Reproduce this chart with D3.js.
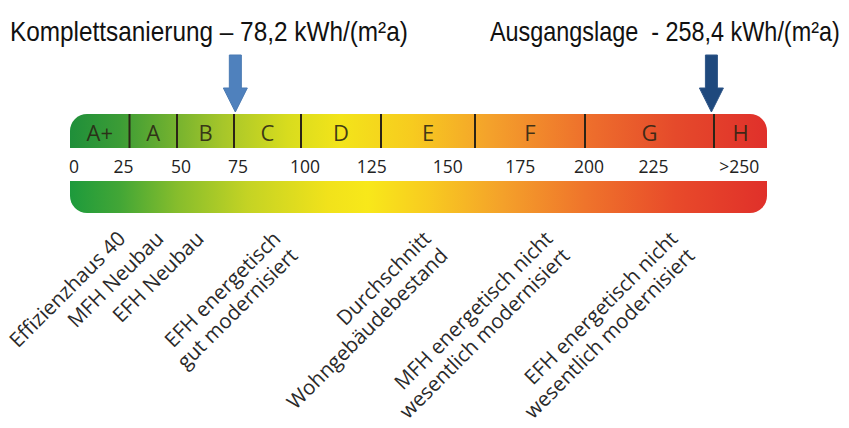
<!DOCTYPE html>
<html><head><meta charset="utf-8">
<script src="https://cdn.jsdelivr.net/npm/d3@7"></script>
<style>
html,body{margin:0;padding:0;background:#fff;}
svg{display:block;}
</style></head>
<body>
<svg id="chart" width="849" height="428"></svg>
<script>
// ---- data ----
const classNames = ["A+", "A", "B", "C", "D", "E", "F", "G", "H"];
const classBounds = [0, 30, 50, 75, 100, 130, 160, 200, 250, 270]; // kWh/(m²a), last = end of scale
const tickValues = [0, 25, 50, 75, 100, 125, 150, 175, 200, 225, 258];
const tickLabels = ["0", "25", "50", "75", "100", "125", "150", "175", "200", "225", ">250"];
const markerTitles = ["Komplettsanierung – 78,2 kWh/(m²a)", "Ausgangslage\u00a0 - 258,4 kWh/(m²a)"];
const markerValues = [75.5, 249]; // arrow positions as drawn on the scale
const refLines1 = ["Effizienzhaus 40", "MFH Neubau", "EFH Neubau", "EFH energetisch", "Durchschnitt", "MFH energetisch nicht", "EFH energetisch nicht"];
const refLines2 = ["", "", "", "gut modernisiert", "Wohngebäudebestand", "wesentlich modernisiert", "wesentlich modernisiert"];
const refValues = [28.6, 44.9, 62.3, 92.9, 146.3, 188.7, 236.4];

// ---- layout ----
const svg = d3.select("#chart");
const x = d3.scaleLinear().domain(classBounds).range([70, 129.5, 177, 234, 301, 381, 475, 585, 714, 767]);

const topY = 114, topH = 34, botY = 181, botH = 32, r = 17;
const x0 = x(classBounds[0]), x1 = x(classBounds[classBounds.length - 1]);

const defs = svg.append("defs");
function grad(id, stops) {
  const g = defs.append("linearGradient").attr("id", id)
    .attr("gradientUnits", "userSpaceOnUse")
    .attr("x1", x0).attr("x2", x1).attr("y1", 0).attr("y2", 0);
  stops.forEach(s => g.append("stop").attr("offset", (x(s[0]) - x0) / (x1 - x0)).attr("stop-color", s[1]));
}
grad("gTop", [[0, "#1f8f3a"], [25, "#3b9c36"], [45, "#6aae30"], [70, "#a6c62a"], [95, "#d8dc1e"], [115, "#f3e41a"], [140, "#f7cb1f"], [165, "#f4a22b"], [200, "#ee702c"], [235, "#e54a2b"], [270, "#e0302b"]]);
grad("gBot", [[0, "#1d9a3c"], [25, "#42a636"], [50, "#86bd2c"], [80, "#c4d324"], [110, "#f1e21b"], [125, "#f8e81a"], [145, "#f8cb20"], [170, "#f4a12a"], [200, "#ef742b"], [235, "#e84a2a"], [270, "#e0302a"]]);

// top band with rounded top corners
const topPath = `M${x0},${topY + topH} V${topY + r} A${r},${r} 0 0 1 ${x0 + r},${topY} H${x1 - r} A${r},${r} 0 0 1 ${x1},${topY + r} V${topY + topH} Z`;
svg.append("path").attr("d", topPath).attr("fill", "url(#gTop)");
const botPath = `M${x0},${botY} H${x1} V${botY + botH - r} A${r},${r} 0 0 1 ${x1 - r},${botY + botH} H${x0 + r} A${r},${r} 0 0 1 ${x0},${botY + botH - r} Z`;
svg.append("path").attr("d", botPath).attr("fill", "url(#gBot)");

// class dividers
svg.append("g").selectAll("line").data(classBounds.slice(1, -1)).join("line")
  .attr("x1", d => x(d)).attr("x2", d => x(d))
  .attr("y1", topY).attr("y2", topY + topH)
  .attr("stroke", "#2b2416").attr("stroke-width", 2);

// class letters
const mid = classNames.map((c, i) => (classBounds[i] + classBounds[i + 1]) / 2);
svg.append("g").selectAll("text").data(classNames).join("text")
  .attr("x", (d, i) => x(mid[i]))
  .attr("y", topY + 27)
  .attr("text-anchor", "middle")
  .attr("font-family", "'Open Sans', 'Noto Sans', sans-serif")
  .attr("font-size", 22)
  .attr("fill", "#2a2414")
  .attr("fill-opacity", 0.88)
  .text(d => d);

// tick labels
svg.append("g").selectAll("text").data(tickValues).join("text")
  .attr("x", d => x(d) + 4)
  .attr("y", 173)
  .attr("text-anchor", "middle")
  .attr("font-family", "'Open Sans', 'Noto Sans', sans-serif")
  .attr("font-size", 17.5)
  .attr("fill", "#222")
  .text((d, i) => tickLabels[i]);

// arrows
const arrowColors = ["#4f81bd", "#1f497d"];
const arrowStroke = ["#4a7ab3", "#2f5688"];
markerValues.forEach((v, i) => {
  const cx = x(v);
  const p = d3.path();
  p.moveTo(cx - 6, 55); p.lineTo(cx + 6, 55); p.lineTo(cx + 6, 88); p.lineTo(cx + 12, 88);
  p.lineTo(cx, 112); p.lineTo(cx - 12, 88); p.lineTo(cx - 6, 88); p.closePath();
  svg.append("path").attr("d", p.toString()).attr("fill", arrowColors[i]).attr("stroke", arrowStroke[i]).attr("stroke-width", 1);
});

// titles (horizontally condensed to match the narrow original lettering)
const titleX = [10, 490];
const titleW = [398, 350];
markerTitles.forEach((t, i) => {
  const g = svg.append("g");
  const txt = g.append("text").attr("x", 0).attr("y", 0)
    .attr("font-family", "'Liberation Sans', Arial, sans-serif")
    .attr("font-size", 27)
    .attr("fill", "#111")
    .text(t);
  const w = txt.node().getComputedTextLength();
  g.attr("transform", `translate(${titleX[i]},41) scale(${titleW[i] / w},1)`);
});

// rotated reference labels
const lg = svg.append("g").attr("font-family", "'Open Sans', 'Noto Sans', sans-serif").attr("font-size", 20.5).attr("fill", "#2a2a2a");
refValues.forEach((v, i) => {
  const g = lg.append("g").attr("transform", `translate(${x(v)},${240}) rotate(-45)`);
  g.append("text").attr("text-anchor", "end").attr("x", 0).attr("y", 0).text(refLines1[i]);
  if (refLines2[i]) g.append("text").attr("text-anchor", "end").attr("x", 0).attr("y", 24).text(refLines2[i]);
});
</script>
</body></html>
